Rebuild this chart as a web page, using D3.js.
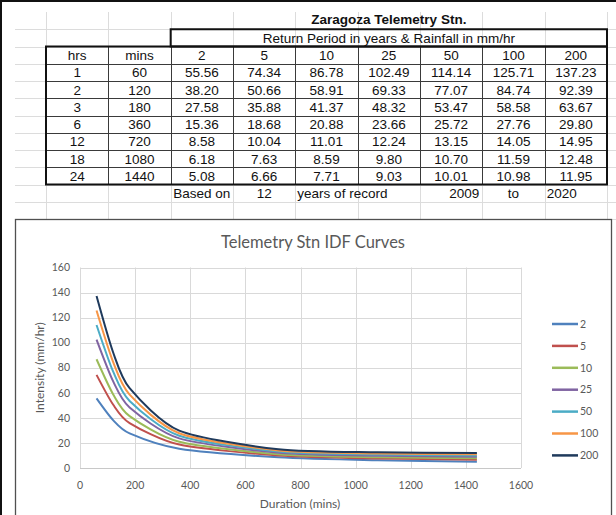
<!DOCTYPE html>
<html>
<head>
<meta charset="utf-8">
<script src="https://cdn.jsdelivr.net/npm/d3@7"></script>
<style>
  body { margin: 0; background: #fff; }
  svg { display: block; }
</style>
</head>
<body>
<svg id="canvas" width="616" height="515"></svg>
<script>
var hours = [1, 2, 3, 6, 12, 18, 24];
var minutes = [60, 120, 180, 360, 720, 1080, 1440];
var periods = ["2", "5", "10", "25", "50", "100", "200"];
var rp2 = [55.56, 38.20, 27.58, 15.36, 8.58, 6.18, 5.08];
var rp5 = [74.34, 50.66, 35.88, 18.68, 10.04, 7.63, 6.66];
var rp10 = [86.78, 58.91, 41.37, 20.88, 11.01, 8.59, 7.71];
var rp25 = [102.49, 69.33, 48.32, 23.66, 12.24, 9.80, 9.03];
var rp50 = [114.14, 77.07, 53.47, 25.72, 13.15, 10.70, 10.01];
var rp100 = [125.71, 84.74, 58.58, 27.76, 14.05, 11.59, 10.98];
var rp200 = [137.23, 92.39, 63.67, 29.80, 14.95, 12.48, 11.95];
var xTicks = [0, 200, 400, 600, 800, 1000, 1200, 1400, 1600];
var yTicks = [0, 20, 40, 60, 80, 100, 120, 140, 160];
var recordYears = 12;
var recordFrom = 2009;
var recordTo = 2020;

var series = [rp2, rp5, rp10, rp25, rp50, rp100, rp200];
var colors = ["#4f81bd", "#c0504d", "#9bbb59", "#8064a2", "#4bacc6", "#f79646", "#1f3a5c"];

var svg = d3.select("#canvas");
var fmt = d3.format(".2f");

//Spreadsheet columns and rows
var col = d3.scaleBand().domain(d3.range(9)).range([46, 607]);
var row = d3.scaleBand().domain(d3.range(12)).range([12, 219]);
var cw = col.bandwidth(), rh = row.bandwidth();

//Black screenshot edge at top and left
svg.append("rect").attr("x", 0).attr("y", 0).attr("width", 616).attr("height", 2).attr("fill", "#111");
svg.append("rect").attr("x", 0).attr("y", 0).attr("width", 2).attr("height", 515).attr("fill", "#111");

//Sheet gridlines
var grid = svg.append("g").attr("stroke", "#dcdcdc").attr("stroke-width", 1);
d3.range(10).forEach(function(i){
    var x = i < 9 ? col(i) : col(8) + cw;
    grid.append("line").attr("x1", Math.round(x) + 0.5).attr("x2", Math.round(x) + 0.5)
        .attr("y1", 12).attr("y2", 219);
});
d3.range(1, 13).forEach(function(i){
    var y = row(0) + i * rh;
    grid.append("line").attr("x1", 15).attr("x2", 616)
        .attr("y1", Math.round(y) + 0.5).attr("y2", Math.round(y) + 0.5);
});

//Cell text helper
function cell(g, c, r, txt, opts){
    opts = opts || {};
    var anchor = opts.anchor || "middle";
    var x = anchor == "middle" ? col(c) + cw / 2 : anchor == "end" ? col(c) + cw - 3 : col(c) + 2;
    var dy = opts.dy || 0;
    g.append("text")
        .attr("transform", "translate(" + x + "," + (row(r) + rh / 2 + 5 + dy) + ") scale(1.04,1)")
        .attr("text-anchor", anchor)
        .attr("font-weight", opts.bold ? "bold" : null)
        .text(txt);
}

var table = svg.append("g")
    .attr("font-family", "'Liberation Sans', Arial, sans-serif")
    .attr("font-size", 13)
    .attr("fill", "#111");

//Inner table lines
var lines = table.append("g").attr("stroke", "#3a3a3a").attr("stroke-width", 1);
d3.range(1, 9).forEach(function(i){
    var x = Math.round(col(i)) + 0.5;
    lines.append("line").attr("x1", x).attr("x2", x).attr("y1", row(2)).attr("y2", row(10));
});
d3.range(3, 10).forEach(function(i){
    var y = Math.round(row(i)) + 0.5;
    lines.append("line").attr("x1", col(0)).attr("x2", col(8) + cw).attr("y1", y).attr("y2", y);
});

//Thick borders
table.append("rect")
    .attr("x", col(2)).attr("y", row(1))
    .attr("width", col(8) + cw - col(2)).attr("height", rh)
    .attr("fill", "none").attr("stroke", "#111").attr("stroke-width", 2);
table.append("rect")
    .attr("x", col(0)).attr("y", row(2))
    .attr("width", col(8) + cw - col(0)).attr("height", row(10) - row(2))
    .attr("fill", "none").attr("stroke", "#111").attr("stroke-width", 2);

//Header text
cell(table, 5, 0, "Zaragoza Telemetry Stn.", {bold: true, dy: -2});
table.append("text")
    .attr("transform", "translate(" + (col(5) + cw / 2) + "," + (row(1) + rh / 2 + 5) + ") scale(1.04,1)")
    .attr("text-anchor", "middle")
    .text("Return Period in years & Rainfall in mm/hr");
cell(table, 0, 2, "hrs");
cell(table, 1, 2, "mins");
periods.forEach(function(p, j){ cell(table, j + 2, 2, p); });

//Data rows
hours.forEach(function(h, i){
    cell(table, 0, i + 3, h);
    cell(table, 1, i + 3, minutes[i]);
    series.forEach(function(s, j){ cell(table, j + 2, i + 3, fmt(s[i])); });
});

//Record line
cell(table, 2, 10, "Based on");
cell(table, 3, 10, recordYears);
cell(table, 4, 10, "years of record", {anchor: "start"});
cell(table, 6, 10, recordFrom, {anchor: "end"});
cell(table, 7, 10, "to");
cell(table, 8, 10, recordTo, {anchor: "start"});

// ---- chart ----
var chart = svg.append("g").attr("font-family", "Lato, 'Open Sans', sans-serif").attr("fill", "#595959");

chart.append("rect")
    .attr("x", 15.5).attr("y", 219.5).attr("width", 596).attr("height", 320)
    .attr("fill", "#fff").attr("stroke", "#505050").attr("stroke-width", 1.3);

chart.append("text")
    .attr("x", 313).attr("y", 248)
    .attr("text-anchor", "middle")
    .attr("font-size", 16.5)
    .text("Telemetry Stn IDF Curves");

var x = d3.scaleLinear().domain([0, 1600]).range([80, 521]);
var y = d3.scaleLinear().domain([0, 160]).range([468, 267.5]);

//Gridlines
var cg = chart.append("g").attr("stroke", "#d9d9d9").attr("stroke-width", 1);
xTicks.forEach(function(t){
    cg.append("line").attr("x1", Math.round(x(t)) + 0.5).attr("x2", Math.round(x(t)) + 0.5)
        .attr("y1", y(160)).attr("y2", y(0));
});
yTicks.forEach(function(t){
    cg.append("line").attr("x1", x(0)).attr("x2", x(1600))
        .attr("y1", Math.round(y(t)) + 0.5).attr("y2", Math.round(y(t)) + 0.5)
        .attr("stroke", t == 0 ? "#c8c8c8" : null);
});

//Tick labels
chart.append("g").attr("font-size", 10.5).selectAll("text").data(xTicks).enter().append("text")
    .attr("x", function(d){ return x(d); })
    .attr("y", 489)
    .attr("text-anchor", "middle")
    .text(function(d){ return d; });
chart.append("g").attr("font-size", 10.5).selectAll("text").data(yTicks).enter().append("text")
    .attr("x", 70)
    .attr("y", function(d){ return y(d) + 3.7; })
    .attr("text-anchor", "end")
    .text(function(d){ return d; });

//Axis titles
chart.append("text")
    .attr("x", 300).attr("y", 508)
    .attr("text-anchor", "middle")
    .attr("font-size", 12)
    .text("Duration (mins)");
chart.append("text")
    .attr("transform", "translate(44," + y(80) + ") rotate(-90)")
    .attr("text-anchor", "middle")
    .attr("font-size", 12)
    .text("Intensity (mm/hr)");

//Curves (Excel style smoothing)
var line = d3.line()
    .x(function(d, i){ return x(minutes[i]); })
    .y(function(d){ return y(d); })
    .curve(d3.curveCardinal.tension(0.25));

series.forEach(function(s, j){
    chart.append("path")
        .datum(s)
        .attr("fill", "none")
        .attr("stroke", colors[j])
        .attr("stroke-width", 2)
        .attr("stroke-linejoin", "round")
        .attr("d", line);
});

//Legend
var legend = chart.append("g").attr("font-size", 10.5);
periods.forEach(function(p, j){
    var ly = 324 + j * 21.9;
    legend.append("line")
        .attr("x1", 552).attr("x2", 578).attr("y1", ly).attr("y2", ly)
        .attr("stroke", colors[j]).attr("stroke-width", 2.5);
    legend.append("text")
        .attr("x", 580).attr("y", ly + 3.7)
        .text(p);
});
</script>
</body>
</html>
